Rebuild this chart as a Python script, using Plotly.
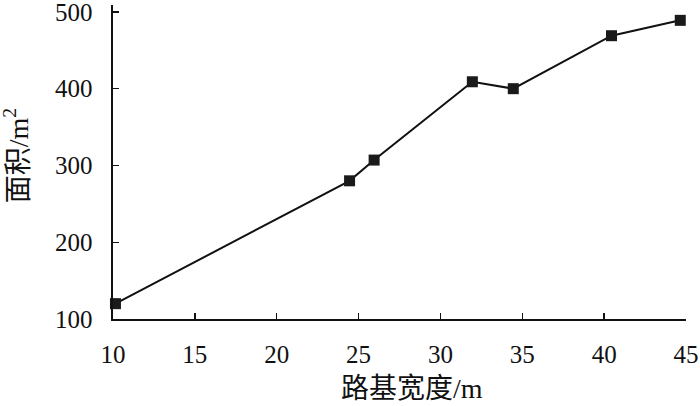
import plotly.graph_objects as go

width_m = [10.15, 24.45, 25.95, 31.95, 34.45, 40.45, 44.65]
area_m2 = [120, 280, 307, 409, 400, 469, 489]
x_ticks = [10, 15, 20, 25, 30, 35, 40, 45]
y_ticks = [100, 200, 300, 400, 500]
x_title = "路基宽度/m"
y_title = "面积/m<sup>2</sup>"

FONT = "'Liberation Serif', 'Times New Roman', 'Noto Sans CJK SC', serif"

fig = go.Figure()
fig.add_trace(go.Scatter(
    x=width_m, y=area_m2, mode="lines+markers",
    line=dict(color="#111111", width=2),
    marker=dict(symbol="square", size=11, color="#1a1a1a"),
    showlegend=False, cliponaxis=False, hoverinfo="skip",
))

axis_common = dict(
    showgrid=False, zeroline=False, showline=True, linecolor="#111111", linewidth=1.6,
    ticks="inside", ticklen=6, tickwidth=1.4, tickcolor="#111111",
    tickfont=dict(family=FONT, size=25, color="#111111"),
    mirror=False, automargin=False, ticklabeloverflow="allow",
)
fig.update_xaxes(range=[10, 45], tickvals=x_ticks, ticklabelstandoff=12, **axis_common)
fig.update_yaxes(range=[100, 509], tickvals=y_ticks, ticklabelstandoff=14, **axis_common)

fig.add_annotation(text=x_title, xref="paper", yref="paper", x=0.522, y=-0.222,
                   xanchor="center", yanchor="middle", showarrow=False,
                   font=dict(family=FONT, size=28, color="#111111"))
fig.add_annotation(text=y_title, xref="paper", yref="paper", x=-0.169, y=0.519,
                   xanchor="center", yanchor="middle", showarrow=False, textangle=-90,
                   font=dict(family=FONT, size=28, color="#111111"))

fig.update_layout(
    width=700, height=406,
    margin=dict(l=113, r=14, t=5, b=87),
    plot_bgcolor="white", paper_bgcolor="white",
)
fig.write_html(
    "out.html",
    config={"displayModeBar": False, "staticPlot": True},
    post_script="document.body.style.margin='0';document.body.style.overflow='hidden';",
)
